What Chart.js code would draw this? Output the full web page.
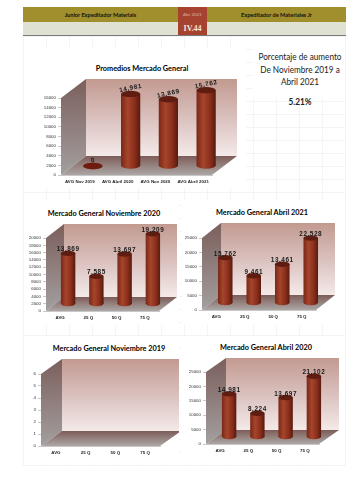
<!DOCTYPE html>
<html>
<head>
<meta charset="utf-8">
<script src="https://cdn.jsdelivr.net/npm/chart.js@4"></script>
<style>
html,body{margin:0;padding:0;background:#fff}
#page{position:relative;width:360px;height:480px;overflow:hidden;font-family:Lato,sans-serif;color:#000}
#lines{position:absolute;left:23px;top:36px;width:323px;height:430px;
 background-image:repeating-linear-gradient(90deg,#f4f4f4 0,#f4f4f4 1px,transparent 1px,transparent 23px),repeating-linear-gradient(0deg,#f4f4f4 0,#f4f4f4 1px,transparent 1px,transparent 13px)}
.pnl{position:absolute;background:#fff}
canvas{position:absolute;display:block}
.hd{position:absolute;text-align:center;font-weight:bold;font-size:5.6px;line-height:15px;height:15px;background:#a08f2c;top:7px;color:#111}
.lt{position:absolute;background:#dfe2d3;top:22px;height:13px;border-bottom:1px solid #777}
.ttl{position:absolute;font-weight:bold;white-space:nowrap;transform:translate(-50%,-50%) scaleX(.88);font-size:8.3px}
.sd{position:absolute;left:248px;width:104px;text-align:center;font-size:9px;line-height:12.5px;color:#222;white-space:nowrap;transform:scaleX(.91)}
</style>
</head>
<body>
<div id="page">
 <div id="lines"></div>
 <div class="pnl" style="left:24px;top:48px;width:222px;height:140px"></div>
 <div class="pnl" style="left:24px;top:201px;width:155px;height:124px"></div>
 <div class="pnl" style="left:182px;top:201px;width:163px;height:124px"></div>
 <div class="pnl" style="left:24px;top:337px;width:155px;height:127px"></div>
 <div class="pnl" style="left:181px;top:337px;width:164px;height:127px"></div>
 <div class="pnl" style="left:253px;top:37px;width:92px;height:60px"></div>

 <div class="hd" style="left:23px;width:155px">Junior Expeditador Materials</div>
 <div class="hd" style="left:178px;width:29px;background:#a64330;color:#dcb3a4;font-weight:normal;font-size:4.6px">Abr 2021</div>
 <div class="hd" style="left:207px;width:139px">Expeditador de Materiales Jr</div>
 <div class="lt" style="left:23px;width:155px"></div>
 <div class="lt" style="left:178px;width:29px;background:#a64330;color:#f3e6df;font:bold 8px/13px 'Liberation Serif',serif;text-align:center">IV.44</div>
 <div class="lt" style="left:207px;width:139px"></div>

 <canvas id="cProm"></canvas>
 <canvas id="cNov20"></canvas>
 <canvas id="cAbr21"></canvas>
 <canvas id="cNov19"></canvas>
 <canvas id="cAbr20"></canvas>

 <div class="ttl" style="left:142px;top:68px">Promedios Mercado General</div>
 <div class="ttl" style="left:104px;top:213px">Mercado General Noviembre 2020</div>
 <div class="ttl" style="left:262px;top:212px">Mercado General Abril 2021</div>
 <div class="ttl" style="left:109px;top:348px">Mercado General Noviembre 2019</div>
 <div class="ttl" style="left:266px;top:347px">Mercado General Abril 2020</div>

 <div class="sd" style="top:51px">Porcentaje de aumento<br>De Noviembre 2019 a<br>Abril 2021</div>
 <div class="sd" style="top:96px;font-weight:bold">5.21%</div>
</div>
<script>
const catsProm=['AVG Nov 2019','AVG Abril 2020','AVG Nov 2020','AVG Abril 2021'];
const catsQ=['AVG','25 Q','50 Q','75 Q'];
const valsProm=[0,14981,13869,15762];
const valsNov20=[13869,7585,13697,19209];
const valsAbr21=[15762,9461,13461,22528];
const valsNov19=[null,null,null,null];
const valsAbr20=[14981,8224,13697,21102];

// paints the walls behind, shifts the bars back into the box, adds caps and labels
const box3d={
    id:'box3d',
    beforeDatasetsDraw:function(c,a,o){
        let g=c.ctx,p=c.chartArea,dx=o.depth[0],dy=o.depth[1],lg;
        // back wall
        lg=g.createLinearGradient(0,p.top+dy,0,p.bottom+dy);
        lg.addColorStop(0,'#c29a90');lg.addColorStop(.55,'#dcc4c2');lg.addColorStop(1,'#f4eae8');
        g.fillStyle=lg;g.fillRect(p.left+dx,p.top+dy,p.right-p.left,p.bottom-p.top);
        // left wall
        lg=g.createLinearGradient(0,p.top+dy,0,p.bottom);
        lg.addColorStop(0,'#7b5f5c');lg.addColorStop(1,'#a39f9f');
        g.fillStyle=lg;g.beginPath();g.moveTo(p.left,p.top);g.lineTo(p.left+dx,p.top+dy);g.lineTo(p.left+dx,p.bottom+dy);g.lineTo(p.left,p.bottom);g.closePath();g.fill();
        // floor
        lg=g.createLinearGradient(0,p.bottom+dy,0,p.bottom);
        lg.addColorStop(0,'#7d5c58');lg.addColorStop(1,'#aca7a5');
        g.fillStyle=lg;g.beginPath();g.moveTo(p.left,p.bottom);g.lineTo(p.left+dx,p.bottom+dy);g.lineTo(p.right+dx,p.bottom+dy);g.lineTo(p.right,p.bottom);g.closePath();g.fill();
        g.save();g.translate(o.shift[0],o.shift[1]);
        // bottom caps go under the bar
        let m=c.getDatasetMeta(0);
        m.data.forEach((el,i)=>{
            if(c.data.datasets[0].data[i]==null) return;
            g.fillStyle=el.options.backgroundColor;
            g.beginPath();g.ellipse(el.x,el.base,el.width/2,o.ry,0,0,Math.PI*2);g.fill();
        });
    },
    afterDatasetsDraw:function(c,a,o){
        let g=c.ctx,m=c.getDatasetMeta(0),d=c.data.datasets[0].data;
        m.data.forEach((el,i)=>{
            if(d[i]==null) return;
            g.fillStyle=d[i]===0?'#6e1c10':'#5f1d12';
            g.beginPath();g.ellipse(el.x,el.y,el.width/2,o.ry,0,0,Math.PI*2);g.fill();
        });
        g.restore();
        g.fillStyle='#1a1a1a';g.font='bold '+o.fs+'px "Liberation Sans",sans-serif';
        g.letterSpacing='0.55px';g.textAlign='center';g.textBaseline='middle';
        m.data.forEach((el,i)=>{
            if(d[i]==null) return;
            g.save();
            g.translate(el.x+o.shift[0],el.y+o.shift[1]-o.ry-o.up);
            g.rotate(o.rot);
            g.fillText(d[i].toLocaleString('en-US'),0,0);
            g.restore();
        });
        g.letterSpacing='0px';
    }
};

function cyl(ctx){
    let c=ctx.chart,x=c.scales.x;
    if(!x||ctx.dataIndex===undefined) return '#8b2e1c';
    let cx=x.getPixelForValue(ctx.dataIndex),w=(x.right-x.left)/4*.51;
    if(!isFinite(cx)||!isFinite(w)) return '#8b2e1c';
    let lg=c.ctx.createLinearGradient(cx-w/2,0,cx+w/2,0);
    lg.addColorStop(0,'#7a2716');lg.addColorStop(.35,'#a5452c');lg.addColorStop(.7,'#8b2f1c');lg.addColorStop(1,'#571a0e');
    return lg;
}

function mk(id,cats,vals,yMax,yStep,bx,pl,depth,shift,ry,fs,up,rot){
    let cv=document.getElementById(id);
    cv.style.left=bx[0]+'px';cv.style.top=bx[1]+'px';
    cv.width=bx[2];cv.height=bx[3];
    let axW=pl[0]-bx[0],axH=12;
    return new Chart(cv.getContext('2d'),{
        type:'bar',
        data:{labels:cats,datasets:[{data:vals,backgroundColor:cyl,borderWidth:0,barPercentage:.51,categoryPercentage:1,clip:false}]},
        options:{
            responsive:false,animation:false,
            layout:{padding:{left:0,top:pl[1]-bx[1],right:bx[0]+bx[2]-pl[2],bottom:bx[1]+bx[3]-pl[3]-axH}},
            plugins:{legend:{display:false},title:{display:false},tooltip:{enabled:false},
                box3d:{depth:depth,shift:shift,ry:ry,fs:fs,up:up,rot:rot}},
            scales:{
                x:{afterFit:s=>{s.height=axH},grid:{display:false,drawTicks:false},border:{color:'#c8c8c8'},
                    ticks:{color:'#222',padding:4,autoSkip:false,maxRotation:0,font:{size:4.4,weight:'bold',family:'"Liberation Sans",sans-serif'}}},
                y:{min:0,max:yMax,afterFit:s=>{s.width=axW},border:{display:false},
                    grid:{drawOnChartArea:false,color:'#c8c8c8',tickLength:3},
                    ticks:{stepSize:yStep,autoSkip:false,color:'#333',padding:2,callback:v=>String(v),font:{size:4.4,family:'"Liberation Sans",sans-serif'}}}
            }
        },
        plugins:[box3d]
    });
}

mk('cProm',catsProm,valsProm,16000,2000,[24,74,222,114],[61,98,212,175],[25,-19],[13,-9],3.2,6.4,2.5,-0.21);
mk('cNov20',catsQ,valsNov20,20000,2000,[24,218,155,106],[46,238,159,311],[18,-14],[8,-7],2.7,6.4,1,0);
mk('cAbr21',catsQ,valsAbr21,25000,5000,[182,218,163,106],[202,238,316,310],[19,-15],[9,-7],2.7,6.4,1,0);
mk('cNov19',catsQ,valsNov19,6,1,[24,354,155,108],[41,374,160,446],[21,-15],[9,-7],2.7,6.4,1,0);
mk('cAbr20',catsQ,valsAbr20,25000,5000,[181,354,164,108],[206,372,319,444],[20,-14],[9,-7],2.7,6.4,1,0);
</script>
</body>
</html>
